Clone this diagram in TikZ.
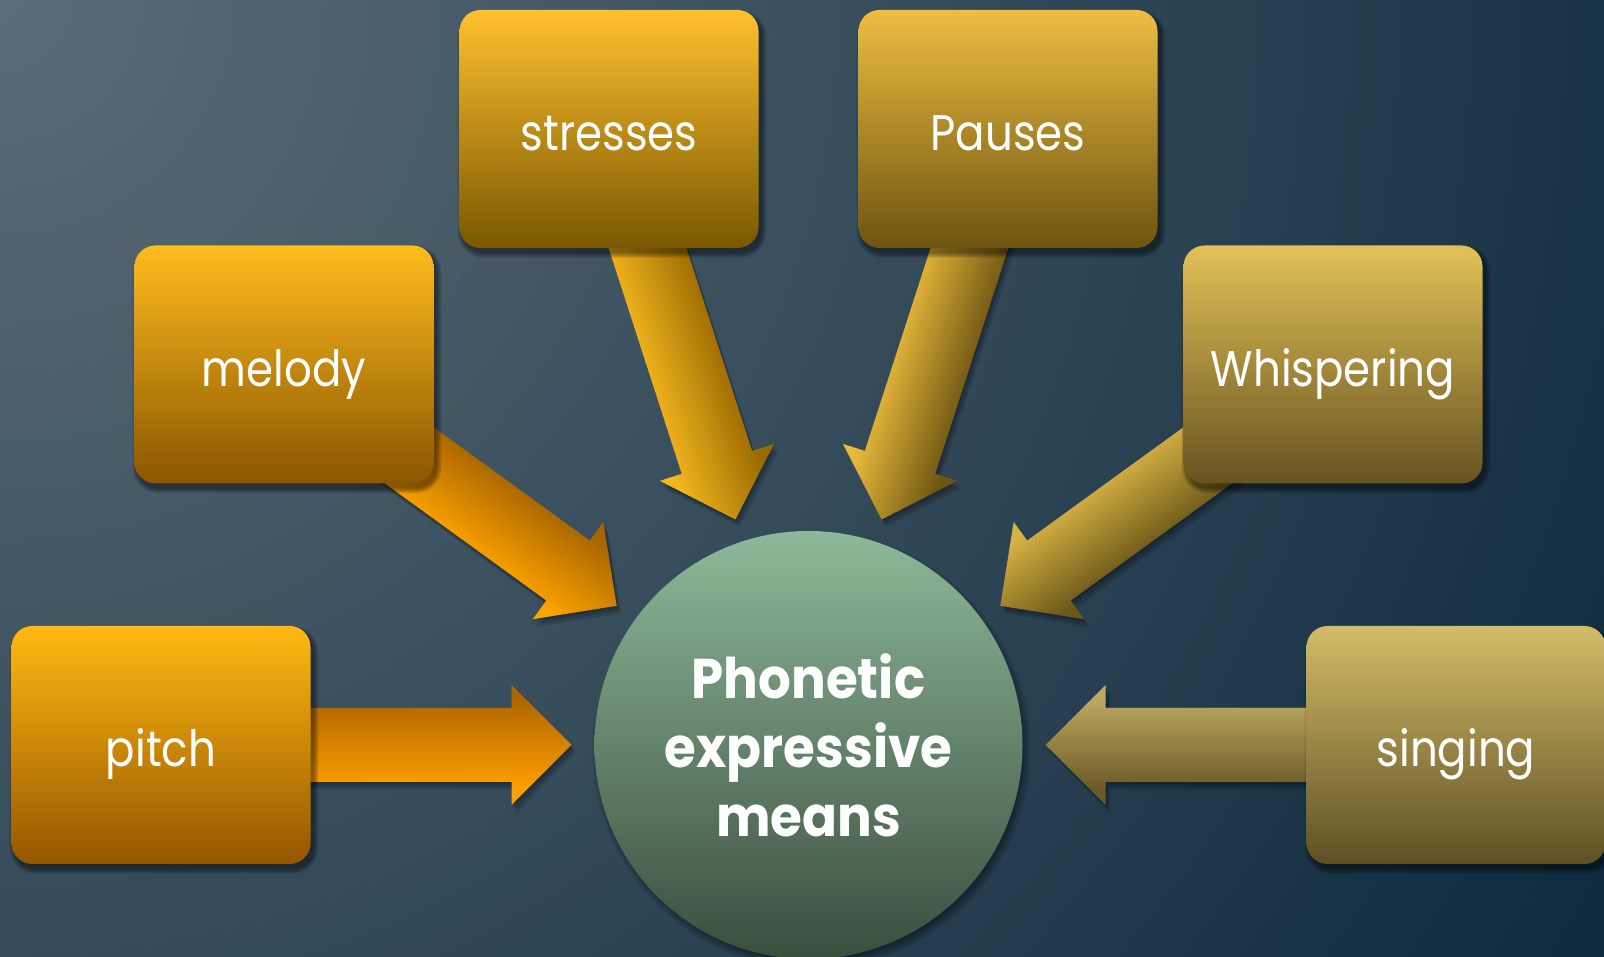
\documentclass[tikz,border=0pt]{standalone}
\usepackage{fontspec}
\setmainfont{Poppins}
\newfontfamily\lblfont[FakeStretch=0.87]{Poppins}
\newfontfamily\ctrfont[FakeStretch=0.92]{Poppins}
\usetikzlibrary{calc}

\definecolor{bgA}{HTML}{5C6C77}
\definecolor{bgB}{HTML}{0E2A3D}
% boxes
\definecolor{pitchT}{HTML}{FFBA12}\definecolor{pitchM}{HTML}{F89800}\definecolor{pitchB}{HTML}{955600}
\definecolor{melT}{HTML}{FFBC1E}\definecolor{melM}{HTML}{E79300}\definecolor{melB}{HTML}{8A5600}
\definecolor{strT}{HTML}{FFC12E}\definecolor{strM}{HTML}{C88A00}\definecolor{strB}{HTML}{7A5800}
\definecolor{pauT}{HTML}{EEBE42}\definecolor{pauM}{HTML}{B38D1C}\definecolor{pauB}{HTML}{6E5310}
\definecolor{whiT}{HTML}{E2C257}\definecolor{whiM}{HTML}{A88C30}\definecolor{whiB}{HTML}{675220}
\definecolor{sinT}{HTML}{D3BC68}\definecolor{sinM}{HTML}{A2904A}\definecolor{sinB}{HTML}{5E5024}
% arrows (dark, bright)
\definecolor{apD}{HTML}{B06600}\definecolor{apL}{HTML}{FF9F00}
\definecolor{amD}{HTML}{A66400}\definecolor{amL}{HTML}{FFA300}
\definecolor{asD}{HTML}{9A6A00}\definecolor{asL}{HTML}{F6B81F}
\definecolor{auD}{HTML}{6F5512}\definecolor{auL}{HTML}{E9BA3C}
\definecolor{awD}{HTML}{6C5818}\definecolor{awL}{HTML}{D9B444}
\definecolor{agD}{HTML}{6A5A26}\definecolor{agL}{HTML}{BCA862}
% circle
\definecolor{cirT}{HTML}{8DB99A}\definecolor{cirB}{HTML}{3B4D3D}

\tikzset{
  box/.style={rectangle, rounded corners=21pt, minimum width=299pt, minimum height=238pt,
    inner sep=0pt, text=white, text height=44pt, text depth=0pt,
    font=\lblfont\fontsize{50}{56}\selectfont},
  hub/.style={circle, minimum size=428pt, inner sep=0pt, top color=cirT, bottom color=cirB},
  hubtext/.style={align=center, text=white, inner sep=0pt,
    font=\ctrfont\bfseries\fontsize{56}{69}\selectfont},
  shadowfill/.style={fill=black, opacity=0.085},
}

% soft shadow of a 299x238 rounded box centred at a coordinate
\newcommand\boxshadow[1]{%
  \foreach \k in {0,...,5} {
    \fill[shadowfill, rounded corners={21+\k}]
      ($(#1)+({3-149.5-\k},{-5-119-\k})$) rectangle ($(#1)+({3+149.5+\k},{-5+119+\k})$);
  }%
}

\newdimen\arrdx \newdimen\arrdy
% fat arrow from coordinate #1 towards coordinate #2, gradient dark #3 / bright #4
\newcommand\fatarrow[4]{%
  \pgfmathanglebetweenpoints{\pgfpointanchor{#1}{center}}{\pgfpointanchor{#2}{center}}%
  \let\arrAng\pgfmathresult
  \pgfextractx{\arrdx}{\pgfpointdiff{\pgfpointanchor{#1}{center}}{\pgfpointanchor{#2}{center}}}%
  \pgfextracty{\arrdy}{\pgfpointdiff{\pgfpointanchor{#1}{center}}{\pgfpointanchor{#2}{center}}}%
  \pgfmathsetmacro\arrLen{veclen(\arrdx,\arrdy)}%
  \pgfmathsetmacro\tipx{\arrLen-237}%
  \pgfmathsetmacro\basex{\tipx-60}%
  \pgfmathsetmacro\shx{3*cos(\arrAng)-5*sin(\arrAng)}%
  \pgfmathsetmacro\shy{-3*sin(\arrAng)-5*cos(\arrAng)}%
  \begin{scope}[shift={(#1)}, rotate=\arrAng]
    \foreach \s in {0.5,1,1.5} {
      \fill[black, opacity=0.13, shift={({\s*\shx},{\s*\shy})}]
        (0,-37) -- (\basex,-37) -- (\basex,-60) -- (\tipx,0) -- (\basex,60) -- (\basex,37) -- (0,37) -- cycle;
    }
    \begin{scope}
      \clip (0,-37) -- (\basex,-37) -- (\basex,-60) -- (\tipx,0) -- (\basex,60) -- (\basex,37) -- (0,37) -- cycle;
      \foreach \i in {0,...,47} {
        \pgfmathsetmacro\pct{max(0,min(100,((-60+(\i+0.5)*2.5)+45)/90*100))}
        \fill[#3!\pct!#4] (-1,{-60+\i*2.5}) rectangle ({\tipx+1},{-60+\i*2.5+2.8});
      }
    \end{scope}
  \end{scope}
}

\begin{document}
\begin{tikzpicture}[x=1pt,y=1pt]
\useasboundingbox (0,0) rectangle (1604,957);
% background: radial gradient from the top-left corner
\begin{scope}
  \clip (0,0) rectangle (1604,957);
  \fill[bgB] (0,0) rectangle (1604,957);
  \foreach \k in {80,79,...,1} {
    \pgfmathsetmacro\pct{(\k-0.5)*1.25}
    \pgfmathsetmacro\rad{\k*23.35}
    \fill[bgB!\pct!bgA] (0,957) circle (\rad pt);
  }
\end{scope}

% positions
\coordinate (hubc) at (808.5,212);
\coordinate (pitchc) at (161,212);
\coordinate (melodyc) at (284,592.5);
\coordinate (stressc) at (609,828);
\coordinate (pausec) at (1008,828);
\coordinate (whispc) at (1333,592.5);
\coordinate (singc) at (1456,212);

% circle shadow
\foreach \k in {0,...,5} {
  \fill[shadowfill] ($(hubc)+(3,-5)$) circle ({209+2*\k});
}

% arrows
\fatarrow{pitchc}{hubc}{apD}{apL}
\fatarrow{melodyc}{hubc}{amD}{amL}
\fatarrow{stressc}{hubc}{asD}{asL}
\fatarrow{pausec}{hubc}{auD}{auL}
\fatarrow{whispc}{hubc}{awD}{awL}
\fatarrow{singc}{hubc}{agD}{agL}

% box shadows
\boxshadow{pitchc}\boxshadow{melodyc}\boxshadow{stressc}
\boxshadow{pausec}\boxshadow{whispc}\boxshadow{singc}

% nodes
\node[hub] (circ) at (hubc) {};
\node[hubtext] (ctext) at (circ.center) {Phonetic\\expressive\\means};

\node[box, top color=pitchT, middle color=pitchM, bottom color=pitchB] (pitch) at (pitchc) {pitch};
\node[box, top color=melT, middle color=melM, bottom color=melB] (melody) at (melodyc) {melody};
\node[box, top color=strT, middle color=strM, bottom color=strB] (stresses) at (stressc) {stresses};
\node[box, top color=pauT, middle color=pauM, bottom color=pauB] (pauses) at (pausec) {Pauses};
\node[box, top color=whiT, middle color=whiM, bottom color=whiB] (whisp) at (whispc) {Whispering};
\node[box, top color=sinT, middle color=sinM, bottom color=sinB] (singing) at (singc) {singing};
\end{tikzpicture}
\end{document}
